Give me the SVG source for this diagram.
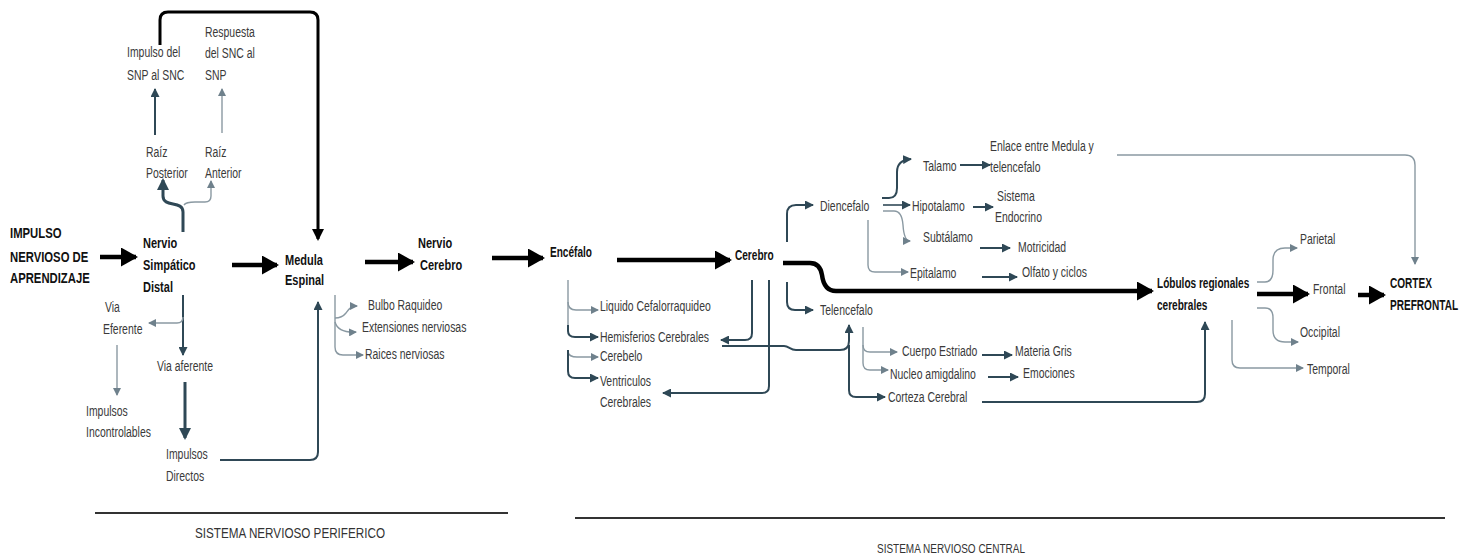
<svg xmlns="http://www.w3.org/2000/svg" width="1472" height="556" viewBox="0 0 1472 556">
<style>
text{font-family:"Liberation Sans",Arial,sans-serif;}
.t,.b,.bl,.bb{transform-box:fill-box;transform-origin:0 50%;}
.t{font-size:14.5px;fill:#3a3a3a;transform:scaleX(0.72);}
.b{font-size:14px;font-weight:bold;fill:#111;transform:scaleX(0.72);}
.bl{font-size:14.5px;font-weight:bold;fill:#111;transform:scaleX(0.76);}
.bb{font-size:15.5px;font-weight:bold;fill:#111;transform:scaleX(0.73);}
.f{fill:#333;}
.k{fill:none;stroke:#000;stroke-width:4.5;marker-end:url(#mk);}
.k2{fill:none;stroke:#000;stroke-width:3;marker-end:url(#mk2);}
.d{fill:none;stroke:#2f4856;stroke-width:2;marker-end:url(#md);}
.dt{fill:none;stroke:#2f4856;stroke-width:3;marker-end:url(#md2);}
.g{fill:none;stroke:#8a99a2;stroke-width:1.4;marker-end:url(#mg);}
.gn{fill:none;stroke:#8a99a2;stroke-width:1.4;}
</style>
<defs>
<marker id="mk" markerUnits="userSpaceOnUse" markerWidth="17" markerHeight="19" refX="15" refY="9.5" orient="auto"><path d="M0,0 L17,9.5 L0,19 z" fill="#000"/></marker>
<marker id="mk2" markerUnits="userSpaceOnUse" markerWidth="12" markerHeight="12" refX="10" refY="6" orient="auto"><path d="M0,0 L12,6 L0,12 z" fill="#000"/></marker>
<marker id="md" markerUnits="userSpaceOnUse" markerWidth="9" markerHeight="9" refX="8" refY="4.5" orient="auto"><path d="M0,0 L9,4.5 L0,9 z" fill="#2f4856"/></marker>
<marker id="md2" markerUnits="userSpaceOnUse" markerWidth="12" markerHeight="12" refX="10" refY="6" orient="auto"><path d="M0,0 L12,6 L0,12 z" fill="#2f4856"/></marker>
<marker id="mg" markerUnits="userSpaceOnUse" markerWidth="8" markerHeight="8" refX="7" refY="4" orient="auto"><path d="M0,0 L8,4 L0,8 z" fill="#6f818c"/></marker>
</defs>
<rect width="1472" height="556" fill="#fff"/>

<g id="connectors">
<path class="k2" d="M160,45 V20 Q160,12 168,12 H310 Q318,12 318,20 V239"/>
<path class="k" d="M100,257 H136"/>
<path class="k" d="M232,265 H277"/>
<path class="k" d="M365,262 H413"/>
<path class="k" d="M492,258 H543"/>
<path class="k" d="M617,260 H730"/>
<path class="k" d="M783,263 H810 Q820,263 822,275 Q824,291 836,291 H1152"/>
<path class="k" d="M1257,294 H1308"/>
<path class="k" d="M1358,295 H1384"/>

<path class="d" d="M155,135 V89"/>
<path class="g" d="M222,133 V89"/>
<path class="dt" d="M183,232 V212 C183,200 163,208 163,196 V180"/>
<path class="g" d="M184,205 Q186,202 195,202 H205 Q211,202 211,196 V181"/>
<path class="d" d="M183,295 V355"/>
<path class="g" d="M183,317 Q183,323 177,323 H149"/>
<path class="g" d="M117,345 V395"/>
<path class="dt" d="M185,382 V438"/>
<path class="d" d="M220,460 H310 Q318,460 318,452 V302"/>
<path class="g" d="M335,295 V347 Q335,355 343,355 H363"/>
<path class="g" d="M335,318 Q342,318 346,313 Q350,306 357,306"/>
<path class="g" d="M335,322 Q338,333 356,332"/>

<path class="gn" d="M568,280 V330"/>
<path class="g" d="M568,302 Q568,310 576,310 H598"/>
<path class="d" d="M568,325 V331 Q568,337 575,337 H598"/>
<path class="g" d="M568,352 Q569,357 577,357 H598"/>
<path class="d" d="M568,350 V371 Q568,378 575,378 H598"/>
<path class="d" d="M752,280 V333 Q752,340 745,340 H721"/>
<path class="d" d="M769,280 V386 Q769,393 762,393 H663"/>
<path class="d" d="M722,346 H784 C789,346 790,350 796,350 H840 Q849,350 849,341 V325"/>
<path class="d" d="M849,345 V390 Q849,397 856,397 H885"/>

<path class="d" d="M787,242 V214 Q787,205 796,205 H813"/>
<path class="d" d="M787,282 V302 Q787,310 795,310 H813"/>
<path class="d" d="M882,198 H889 Q897,198 897,188 V172 Q897,160 911,159"/>
<path class="d" d="M883,205 H910" style="stroke:#5a6e79"/>
<path class="g" d="M883,211 H894 Q902,211 903,225 Q904,241 910,241"/>
<path class="g" d="M868,220 V265 Q868,272 875,272 H908"/>
<path class="d" d="M960,165 H990"/>
<path class="d" d="M973,207 H993"/>
<path class="d" d="M980,248 H1010"/>
<path class="d" d="M982,277 H1017"/>
<path class="g" d="M1117,155 H1405 Q1415,155 1415,165 V264"/>
<path class="g" d="M863,327 V345 Q863,352 870,352 H897"/>
<path class="g" d="M863,345 V363 Q863,370 870,370 H888"/>
<path class="d" d="M982,355 H1012"/>
<path class="d" d="M988,377 H1018"/>
<path class="d" d="M982,402 H1197 Q1205,402 1205,394 V322"/>

<path class="g" d="M1257,282 H1265 Q1273,282 1273,270 V260 Q1273,248 1285,248 H1297"/>
<path class="g" d="M1257,308 H1265 Q1273,308 1273,318 V330 Q1273,342 1285,342 H1298"/>
<path class="g" d="M1232,320 V360 Q1232,368 1240,368 H1303"/>
</g>

<g id="n-impulso"><text class="bb" x="10" y="238">IMPULSO</text><text class="bb" x="10" y="262">NERVIOSO DE</text><text class="bb" x="10" y="283">APRENDIZAJE</text></g>
<g id="n-nervio-simpatico"><text class="bl" x="143" y="248">Nervio</text><text class="bl" x="143" y="270">Simpático</text><text class="bl" x="143" y="292">Distal</text></g>
<g id="n-impulso-snp"><text class="t" x="127" y="57">Impulso del</text><text class="t" x="127" y="80">SNP al SNC</text></g>
<g id="n-respuesta"><text class="t" x="205" y="37">Respuesta</text><text class="t" x="205" y="58">del SNC al</text><text class="t" x="205" y="80">SNP</text></g>
<g id="n-raiz-post"><text class="t" x="146" y="157">Raíz</text><text class="t" x="146" y="178">Posterior</text></g>
<g id="n-raiz-ant"><text class="t" x="205" y="157">Raíz</text><text class="t" x="205" y="178">Anterior</text></g>
<g id="n-via-eferente"><text class="t" x="105" y="312">Via</text><text class="t" x="103" y="334">Eferente</text></g>
<g id="n-via-aferente"><text class="t" x="157" y="371">Via aferente</text></g>
<g id="n-imp-incontrolables"><text class="t" x="86" y="416">Impulsos</text><text class="t" x="86" y="437">Incontrolables</text></g>
<g id="n-imp-directos"><text class="t" x="166" y="459">Impulsos</text><text class="t" x="166" y="481">Directos</text></g>
<g id="n-medula"><text class="bl" x="285" y="265">Medula</text><text class="bl" x="285" y="285">Espinal</text></g>
<g id="n-bulbo"><text class="t" x="368" y="310">Bulbo Raquideo</text></g>
<g id="n-extensiones"><text class="t" x="362" y="332">Extensiones nerviosas</text></g>
<g id="n-raices"><text class="t" x="365" y="359">Raices nerviosas</text></g>
<g id="n-nervio-cerebro"><text class="bl" x="418" y="248">Nervio</text><text class="bl" x="420" y="270">Cerebro</text></g>
<g id="n-encefalo"><text class="b" x="550" y="257">Encéfalo</text></g>
<g id="n-liquido"><text class="t" x="600" y="311">Liquido Cefalorraquideo</text></g>
<g id="n-hemisferios"><text class="t" x="600" y="342">Hemisferios Cerebrales</text></g>
<g id="n-cerebelo"><text class="t" x="600" y="361">Cerebelo</text></g>
<g id="n-ventriculos"><text class="t" x="600" y="386">Ventriculos</text><text class="t" x="600" y="407">Cerebrales</text></g>
<g id="n-cerebro"><text class="b" x="735" y="260">Cerebro</text></g>
<g id="n-diencefalo"><text class="t" x="820" y="211">Diencefalo</text></g>
<g id="n-talamo"><text class="t" x="923" y="171">Talamo</text></g>
<g id="n-enlace"><text class="t" x="990" y="151">Enlace entre Medula y</text><text class="t" x="990" y="172">telencefalo</text></g>
<g id="n-hipotalamo"><text class="t" x="912" y="211">Hipotalamo</text></g>
<g id="n-sistema-endocrino"><text class="t" x="997" y="201">Sistema</text><text class="t" x="995" y="222">Endocrino</text></g>
<g id="n-subtalamo"><text class="t" x="923" y="242">Subtálamo</text></g>
<g id="n-motricidad"><text class="t" x="1018" y="252">Motricidad</text></g>
<g id="n-epitalamo"><text class="t" x="910" y="278">Epitalamo</text></g>
<g id="n-olfato"><text class="t" x="1022" y="277">Olfato y ciclos</text></g>
<g id="n-telencefalo"><text class="t" x="820" y="315">Telencefalo</text></g>
<g id="n-cuerpo"><text class="t" x="902" y="356">Cuerpo Estriado</text></g>
<g id="n-materia"><text class="t" x="1015" y="356">Materia Gris</text></g>
<g id="n-nucleo"><text class="t" x="890" y="379">Nucleo amigdalino</text></g>
<g id="n-emociones"><text class="t" x="1023" y="378">Emociones</text></g>
<g id="n-corteza"><text class="t" x="888" y="402">Corteza Cerebral</text></g>
<g id="n-lobulos"><text class="b" x="1157" y="288">Lóbulos regionales</text><text class="b" x="1157" y="310">cerebrales</text></g>
<g id="n-parietal"><text class="t" x="1300" y="244">Parietal</text></g>
<g id="n-frontal"><text class="t" x="1313" y="294">Frontal</text></g>
<g id="n-occipital"><text class="t" x="1300" y="337">Occipital</text></g>
<g id="n-temporal"><text class="t" x="1307" y="374">Temporal</text></g>
<g id="n-cortex"><text class="b" x="1390" y="288">CORTEX</text><text class="b" x="1390" y="310">PREFRONTAL</text></g>

<g id="footer">
<path d="M95,513 H508" stroke="#333" stroke-width="2"/>
<text class="f" x="195" y="538" textLength="190" lengthAdjust="spacingAndGlyphs" style="font-size:14px">SISTEMA NERVIOSO PERIFERICO</text>
<path d="M575,518 H1445" stroke="#333" stroke-width="2"/>
<text class="f" x="877" y="553" textLength="148" lengthAdjust="spacingAndGlyphs" style="font-size:12.5px">SISTEMA NERVIOSO CENTRAL</text>
</g>
</svg>
